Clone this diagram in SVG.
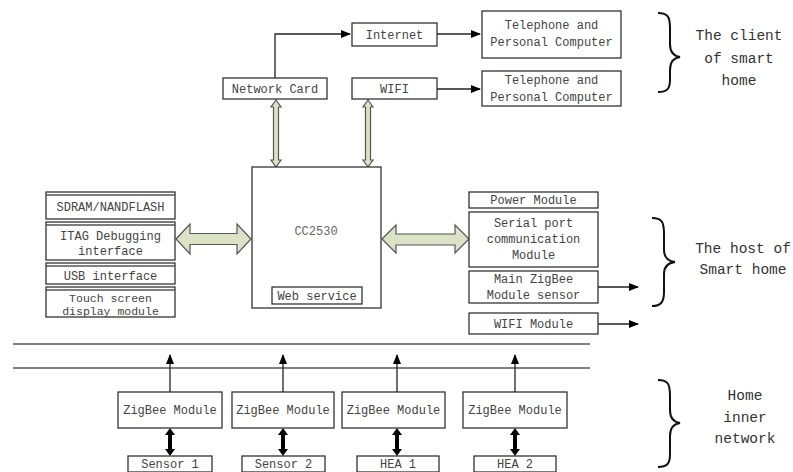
<svg xmlns="http://www.w3.org/2000/svg" width="793" height="472" viewBox="0 0 793 472">
<defs>
<style>
.b{fill:#fff;stroke:#333;stroke-width:1.3}
.t{font-family:"Liberation Mono",monospace;font-size:12px;fill:#444;text-anchor:middle}
.l{font-family:"Liberation Mono",monospace;font-size:14.5px;fill:#333;text-anchor:middle}
.c{fill:none;stroke:#222;stroke-width:1.3}
.h{fill:#dce2c6;stroke:#555;stroke-width:1.2}
.k{fill:#000}
.br{fill:none;stroke:#111;stroke-width:2}
.ln{stroke:#555;stroke-width:1.5}
</style>
<marker id="a" markerWidth="10" markerHeight="8" refX="9" refY="4" orient="auto" markerUnits="userSpaceOnUse">
<path d="M0,0 L10,4 L0,8 Z" fill="#000"/>
</marker>
</defs>
<rect width="793" height="472" fill="#fff"/>

<g id="connectors">
<path class="c" d="M275,78 V34 H350" marker-end="url(#a)"/>
<path class="c" d="M437,34 H480" marker-end="url(#a)"/>
<path class="c" d="M437,89 H480" marker-end="url(#a)"/>
<path class="c" d="M598,287 H638" marker-end="url(#a)"/>
<path class="c" d="M598,324 H638" marker-end="url(#a)"/>
<path class="h" d="M276,100 L281,107 L278.5,107 L278.5,160 L281,160 L276,167 L271,160 L273.5,160 L273.5,107 L271,107 Z"/>
<path class="h" d="M368,100 L373,107 L370.5,107 L370.5,160 L373,160 L368,167 L363,160 L365.5,160 L365.5,107 L363,107 Z"/>
<path class="h" d="M176,239 L190,224 L190,233.5 L237,233.5 L237,224 L251,239 L237,254 L237,244.5 L190,244.5 L190,254 Z"/>
<path class="h" d="M382,239 L396,225 L396,234 L455,234 L455,225 L469,239 L455,253 L455,245 L396,245 L396,253 Z"/>
<line class="ln" x1="13" y1="344" x2="590" y2="344"/>
<line class="ln" x1="13" y1="368" x2="590" y2="368"/>
<path class="c" d="M170,392 V355" marker-end="url(#a)"/>
<path class="c" d="M283,392 V355" marker-end="url(#a)"/>
<path class="c" d="M397,392 V355" marker-end="url(#a)"/>
<path class="c" d="M515,392 V355" marker-end="url(#a)"/>
<path class="k" d="M170,428 L175,435 L172,435 L172,449 L175,449 L170,456 L165,449 L168,449 L168,435 L165,435 Z"/>
<path class="k" d="M283,428 L288,435 L285,435 L285,449 L288,449 L283,456 L278,449 L281,449 L281,435 L278,435 Z"/>
<path class="k" d="M397,428 L402,435 L399,435 L399,449 L402,449 L397,456 L392,449 L395,449 L395,435 L392,435 Z"/>
<path class="k" d="M515,428 L520,435 L517,435 L517,449 L520,449 L515,456 L510,449 L513,449 L513,435 L510,435 Z"/>
</g>

<g id="internet"><rect class="b" x="352" y="23" width="85" height="23"/><text class="t" x="394.5" y="39">Internet</text></g>
<g id="phone1"><rect class="b" x="482" y="11" width="139" height="47"/><text class="t" x="551.5" y="29">Telephone and</text><text class="t" x="551.5" y="46">Personal Computer</text></g>
<g id="phone2"><rect class="b" x="482" y="71" width="139" height="35"/><text class="t" x="551.5" y="84">Telephone and</text><text class="t" x="551.5" y="101">Personal Computer</text></g>
<g id="netcard"><rect class="b" x="223" y="78" width="104" height="21"/><text class="t" x="275" y="93">Network Card</text></g>
<g id="wifi"><rect class="b" x="352" y="78" width="85" height="21"/><text class="t" x="394.5" y="93">WIFI</text></g>

<g id="cc2530"><rect class="b" x="252" y="167" width="129" height="141"/><text class="t" x="316" y="235" style="fill:#666">CC2530</text>
<rect class="b" x="272" y="287" width="90" height="17"/><text class="t" x="317" y="300">Web service</text></g>

<g id="sdram"><rect class="b" x="46" y="192" width="129" height="27"/><line class="ln" x1="46" y1="195" x2="175" y2="195"/><text class="t" x="110.5" y="211">SDRAM/NANDFLASH</text></g>
<g id="itag"><rect class="b" x="46" y="222" width="129" height="38"/><line class="ln" x1="46" y1="225" x2="175" y2="225"/><text class="t" x="110.5" y="240">ITAG Debugging</text><text class="t" x="110.5" y="255">interface</text></g>
<g id="usb"><rect class="b" x="46" y="263" width="129" height="21"/><line class="ln" x1="46" y1="266" x2="175" y2="266"/><text class="t" x="110.5" y="280">USB interface</text></g>
<g id="touch"><rect class="b" x="46" y="287" width="129" height="30"/><line class="ln" x1="46" y1="290" x2="175" y2="290"/><text class="t" x="110.5" y="302" style="font-size:11.5px">Touch screen</text><text class="t" x="110.5" y="315" style="font-size:11.5px">display module</text></g>

<g id="power"><rect class="b" x="469" y="192" width="129" height="16"/><text class="t" x="533.5" y="204">Power Module</text></g>
<g id="serial"><rect class="b" x="469" y="212" width="129" height="55"/><text class="t" x="533.5" y="227">Serial port</text><text class="t" x="533.5" y="243">communication</text><text class="t" x="533.5" y="259">Module</text></g>
<g id="mainzig"><rect class="b" x="469" y="271" width="129" height="32"/><text class="t" x="533.5" y="283">Main ZigBee</text><text class="t" x="533.5" y="299">Module sensor</text></g>
<g id="wifimod"><rect class="b" x="469" y="313" width="129" height="21"/><text class="t" x="533.5" y="328">WIFI Module</text></g>

<g id="zb1"><rect class="b" x="118" y="392" width="104" height="36"/><text class="t" x="170" y="414">ZigBee Module</text></g>
<g id="zb2"><rect class="b" x="232" y="392" width="102" height="36"/><text class="t" x="283" y="414">ZigBee Module</text></g>
<g id="zb3"><rect class="b" x="342" y="392" width="103" height="36"/><text class="t" x="393.5" y="414">ZigBee Module</text></g>
<g id="zb4"><rect class="b" x="463" y="392" width="104" height="36"/><text class="t" x="515" y="414">ZigBee Module</text></g>

<g id="sensor1"><rect class="b" x="128" y="456" width="84" height="16"/><text class="t" x="170" y="468">Sensor 1</text></g>
<g id="sensor2"><rect class="b" x="242" y="456" width="83" height="16"/><text class="t" x="283.5" y="468">Sensor 2</text></g>
<g id="hea1"><rect class="b" x="357" y="456" width="82" height="16"/><text class="t" x="398" y="468">HEA 1</text></g>
<g id="hea2"><rect class="b" x="474" y="456" width="82" height="16"/><text class="t" x="515" y="468">HEA 2</text></g>

<g id="client">
<path class="br" d="M658,13 C668,13 670,17 670,28 L670,44 C670,52 673,56 680,57 C673,58 670,62 670,70 L670,80 C670,89 667,92 658,92"/>
<text class="l" x="739" y="40">The client</text><text class="l" x="739" y="63">of smart</text><text class="l" x="739" y="85">home</text>
</g>
<g id="host">
<path class="br" d="M652,218 C662,218 664,222 664,234 L664,250 C664,257 667,261 675,262 C667,263 664,267 664,274 L664,292 C664,302 661,306 652,306"/>
<text class="l" x="743" y="253">The host of</text><text class="l" x="743" y="274">Smart home</text>
</g>
<g id="inner">
<path class="br" d="M658,380 C668,380 670,384 670,396 L670,410 C670,418 673,422 680,423 C673,424 670,428 670,436 L670,454 C670,464 667,467 658,467"/>
<text class="l" x="745" y="400">Home</text><text class="l" x="745" y="422">inner</text><text class="l" x="745" y="443">network</text>
</g>
</svg>
